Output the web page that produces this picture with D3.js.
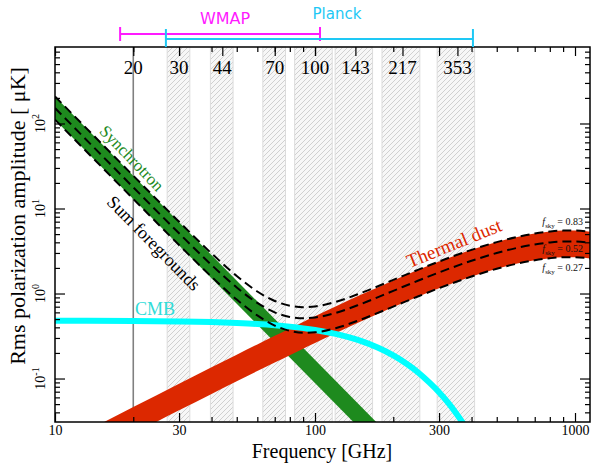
<!DOCTYPE html>
<html>
<head>
<meta charset="utf-8">
<script src="https://cdn.jsdelivr.net/npm/d3@7"></script>
<style>
  body { margin: 0; background: #fff; }
  svg { display: block; }
</style>
</head>
<body>
<svg id="chart" width="591" height="463"></svg>
<script>
// frequency bands (GHz)
const bandNames  = ["30", "44", "70", "100", "143", "217", "353"];
const bandCenter = [30, 44, 70, 100, 143, 217, 353];
const bandLo     = [27, 39.6, 63, 83.5, 119.5, 181, 295];
const bandHi     = [33, 48.4, 77, 116.5, 166.5, 253, 411];
const topLabels  = [20, 30, 44, 70, 100, 143, 217, 353];

const wmapRange   = [17.8, 104.5];
const planckRange = [26.7, 405];

// synchrotron band (straight power law), fsky 0.83 / 0.27
const synchFreq = [10, 200];
const synchHigh = [208, 0.0193];
const synchLow  = [111, 0.0103];

// thermal dust band and summed foregrounds
const freqGrid = [10, 15, 20, 30, 40, 50, 60, 70, 80, 90, 100, 120, 150, 200, 250, 300, 400, 500, 600, 700, 800, 900, 1000, 1150];
const dustHigh = [0.0155, 0.0294, 0.0462, 0.0869, 0.1356, 0.1909, 0.2519, 0.3178, 0.388, 0.4622, 0.5395, 0.7029, 0.9641, 1.426, 1.902, 2.374, 3.262, 4.026, 4.633, 5.076, 5.358, 5.494, 5.5, 5.314];
const dustLow  = [0.0075, 0.0143, 0.0224, 0.0422, 0.0658, 0.0927, 0.1223, 0.1543, 0.1884, 0.2244, 0.2619, 0.3413, 0.4681, 0.6923, 0.9234, 1.153, 1.584, 1.955, 2.249, 2.464, 2.601, 2.667, 2.670, 2.580];
const sumHigh  = [208.0, 59.21, 24.30, 6.988, 2.965, 1.607, 1.057, 0.817, 0.718, 0.691, 0.705, 0.797, 1.011, 1.445, 1.912, 2.380, 3.264, 4.026, 4.633, 5.076, 5.358, 5.494, 5.5, 5.314];
const sumMid   = [152.0, 43.26, 17.76, 5.108, 2.168, 1.177, 0.775, 0.601, 0.530, 0.511, 0.522, 0.591, 0.751, 1.075, 1.422, 1.770, 2.428, 2.995, 3.447, 3.776, 3.986, 4.087, 4.092, 3.953];
const sumLow   = [111.0, 31.59, 12.96, 3.725, 1.576, 0.849, 0.552, 0.420, 0.364, 0.346, 0.350, 0.391, 0.493, 0.702, 0.928, 1.156, 1.585, 1.955, 2.249, 2.464, 2.601, 2.668, 2.670, 2.580];
const fskyNames = ["0.83", "0.52", "0.27"];

// CMB rms polarization
const cmbFreq = [10, 20, 30, 40, 50, 60, 70, 80, 100, 120, 150, 175, 200, 225, 250, 275, 300, 325, 350, 375, 400];
const cmbAmp  = [0.479, 0.475, 0.469, 0.461, 0.450, 0.438, 0.424, 0.408, 0.373, 0.335, 0.277, 0.230, 0.187, 0.149, 0.117, 0.090, 0.069, 0.052, 0.0385, 0.0284, 0.0208];

const xTickLabels = [10, 30, 100, 300, 1000];
const yDecades = [-1, 0, 1, 2];

const serif = "'Liberation Serif', 'DejaVu Serif', serif";
const sans = "'DejaVu Sans', sans-serif";

const plotLeft = 55, plotRight = 590, plotTop = 47, plotBottom = 422;

const x = d3.scaleLog().domain([10, 1142]).range([plotLeft, plotRight]);
const y = d3.scaleLog().domain([0.0308, 794]).range([plotBottom, plotTop]);

const svg = d3.select("#chart");
const defs = svg.append("defs");
defs.append("clipPath").attr("id", "plotClip")
  .append("rect").attr("x", plotLeft).attr("y", plotTop)
  .attr("width", plotRight - plotLeft).attr("height", plotBottom - plotTop);

const pat = defs.append("pattern").attr("id", "hatch")
  .attr("patternUnits", "userSpaceOnUse").attr("width", 5).attr("height", 5);
pat.append("rect").attr("width", 5).attr("height", 5).attr("fill", "#f7f7f7");
pat.append("path").attr("d", "M-1,1 l2,-2 M0,5 l5,-5 M4,6 l2,-2")
  .attr("stroke", "#d0d0d0").attr("stroke-width", 1);

// hatched bands
svg.append("g").selectAll("rect").data(bandCenter).join("rect")
  .attr("x", (d, i) => x(bandLo[i]))
  .attr("width", (d, i) => x(bandHi[i]) - x(bandLo[i]))
  .attr("y", plotTop).attr("height", plotBottom - plotTop)
  .attr("fill", "url(#hatch)")
  .attr("stroke", "#dcdcdc").attr("stroke-width", 1);

// 20 GHz line
svg.append("line")
  .attr("x1", x(20)).attr("x2", x(20)).attr("y1", plotTop).attr("y2", plotBottom)
  .attr("stroke", "#808080").attr("stroke-width", 1.6);

const plot = svg.append("g").attr("clip-path", "url(#plotClip)");

const synchArea = d3.area()
  .x(i => x(synchFreq[i])).y0(i => y(synchLow[i])).y1(i => y(synchHigh[i]));
plot.append("path").datum(d3.range(synchFreq.length))
  .attr("d", synchArea).attr("fill", "#1e8a1e");

const dustArea = d3.area().curve(d3.curveMonotoneX)
  .x(i => x(freqGrid[i])).y0(i => y(dustLow[i])).y1(i => y(dustHigh[i]));
plot.append("path").datum(d3.range(freqGrid.length))
  .attr("d", dustArea).attr("fill", "#dc2800");

const cmbLine = d3.line().curve(d3.curveMonotoneX)
  .x(i => x(cmbFreq[i])).y(i => y(cmbAmp[i]));
plot.append("path").datum(d3.range(cmbFreq.length))
  .attr("d", cmbLine).attr("fill", "none")
  .attr("stroke", "#00ffff").attr("stroke-width", 6);

const sums = [sumHigh, sumMid, sumLow];
sums.forEach(s => {
  const line = d3.line().curve(d3.curveMonotoneX)
    .x(i => x(freqGrid[i])).y(i => y(s[i]));
  plot.append("path").datum(d3.range(freqGrid.length))
    .attr("d", line).attr("fill", "none")
    .attr("stroke", "#000").attr("stroke-width", 2)
    .attr("stroke-dasharray", "9,5");
});

// axes (inward ticks on all four sides)
const xMinor = x.ticks().filter(v => !xTickLabels.includes(v));
const yMajor = yDecades.map(e => Math.pow(10, e));
const yMinor = y.ticks().filter(v => !yMajor.some(m => Math.abs(m - v) / m < 1e-6));

function clean(g) { g.select(".domain").remove(); }

svg.append("g").attr("transform", `translate(0,${plotBottom})`)
  .call(d3.axisBottom(x).tickValues(xMinor).tickSize(-5).tickFormat("")).call(clean);
const xb = svg.append("g").attr("transform", `translate(0,${plotBottom})`)
  .call(d3.axisBottom(x).tickValues(xTickLabels).tickSize(-9).tickPadding(3).tickFormat(d3.format("d")))
  .call(clean);
xb.selectAll("text").attr("font-family", serif).attr("font-size", 14).attr("fill", "#000");

svg.append("g").attr("transform", `translate(0,${plotTop})`)
  .call(d3.axisTop(x).tickValues(xMinor).tickSize(-5).tickFormat("")).call(clean);
svg.append("g").attr("transform", `translate(0,${plotTop})`)
  .call(d3.axisTop(x).tickValues(xTickLabels.concat(topLabels)).tickSize(-9).tickFormat("")).call(clean);

svg.append("g").attr("transform", `translate(${plotLeft},0)`)
  .call(d3.axisLeft(y).tickValues(yMinor).tickSize(-5).tickFormat("")).call(clean);
svg.append("g").attr("transform", `translate(${plotLeft},0)`)
  .call(d3.axisLeft(y).tickValues(yMajor).tickSize(-10).tickFormat("")).call(clean);
svg.append("g").attr("transform", `translate(${plotRight},0)`)
  .call(d3.axisRight(y).tickValues(yMinor).tickSize(-5).tickFormat("")).call(clean);
svg.append("g").attr("transform", `translate(${plotRight},0)`)
  .call(d3.axisRight(y).tickValues(yMajor).tickSize(-10).tickFormat("")).call(clean);
svg.selectAll(".tick line").attr("stroke", "#000").attr("stroke-width", 1.2);

// frame
svg.append("rect").attr("x", plotLeft).attr("y", plotTop)
  .attr("width", plotRight - plotLeft).attr("height", plotBottom - plotTop)
  .attr("fill", "none").attr("stroke", "#000").attr("stroke-width", 1.5);

// y tick labels 10^n, rotated
yDecades.forEach(e => {
  const t = svg.append("text")
    .attr("transform", `translate(45,${y(Math.pow(10, e))}) rotate(-90)`)
    .attr("text-anchor", "middle")
    .attr("font-family", serif).attr("font-size", 14);
  t.append("tspan").text("10");
  t.append("tspan").attr("dy", -6).attr("font-size", 10).text(e);
});

// band labels along the top
svg.append("g").selectAll("text").data(topLabels).join("text")
  .attr("x", d => x(d)).attr("y", 74)
  .attr("text-anchor", "middle")
  .attr("font-family", serif).attr("font-size", 19)
  .text(d => d);

// axis titles
svg.append("text")
  .attr("x", 322).attr("y", 458).attr("text-anchor", "middle")
  .attr("font-family", serif).attr("font-size", 20)
  .text("Frequency [GHz]");
svg.append("text")
  .attr("transform", "translate(25,216) rotate(-90)").attr("text-anchor", "middle")
  .attr("font-family", serif).attr("font-size", 22)
  .text("Rms polarization amplitude [ μK]");

// experiment ranges
function rangeBar(r, yy, capTop, capBot, color) {
  const g = svg.append("g").attr("stroke", color).attr("stroke-width", 2);
  g.append("line").attr("x1", x(r[0])).attr("x2", x(r[1])).attr("y1", yy).attr("y2", yy);
  r.forEach(v => g.append("line").attr("x1", x(v)).attr("x2", x(v)).attr("y1", capTop).attr("y2", capBot));
}
rangeBar(wmapRange, 34, 27, 41, "#ff1aff");
rangeBar(planckRange, 39, 29, 47, "#1ec8f5");
svg.append("text").attr("x", 225).attr("y", 24).attr("text-anchor", "middle")
  .attr("font-family", sans).attr("font-size", 16).attr("fill", "#ff1aff").text("WMAP");
svg.append("text").attr("x", 337).attr("y", 19).attr("text-anchor", "middle")
  .attr("font-family", sans).attr("font-size", 15).attr("fill", "#1ec8f5").text("Planck");

// component labels
svg.append("text").attr("transform", "translate(132,158) rotate(46)")
  .attr("text-anchor", "middle").attr("dy", "0.35em")
  .attr("font-family", serif).attr("font-size", 17).attr("fill", "#1e8a1e").text("Synchrotron");
svg.append("text").attr("transform", "translate(154,243) rotate(45.5)")
  .attr("text-anchor", "middle").attr("dy", "0.35em")
  .attr("font-family", serif).attr("font-size", 18).attr("fill", "#000").text("Sum foregrounds");
svg.append("text").attr("x", 135).attr("y", 315)
  .attr("font-family", serif).attr("font-size", 18).attr("fill", "#30dcd8").text("CMB");
svg.append("text").attr("transform", "translate(454,243) rotate(-22)")
  .attr("text-anchor", "middle").attr("dy", "0.35em")
  .attr("font-family", serif).attr("font-size", 19).attr("fill", "#dc2800").text("Thermal dust");

// fsky labels at the right end
const last = freqGrid.length - 1;
const fskyY = [y(sumHigh[last]) - 7, y(sumMid[last]) + 9, y(sumLow[last]) + 12];
fskyNames.forEach((n, i) => {
  const t = svg.append("text").attr("x", 583).attr("y", fskyY[i])
    .attr("text-anchor", "end").attr("font-family", serif).attr("font-size", 10)
    .attr("fill", "#111");
  t.append("tspan").attr("font-style", "italic").text("f");
  t.append("tspan").attr("font-size", 7).attr("dy", 3).text("sky");
  t.append("tspan").attr("dy", -3).text(" = " + n);
});
</script>
</body>
</html>
